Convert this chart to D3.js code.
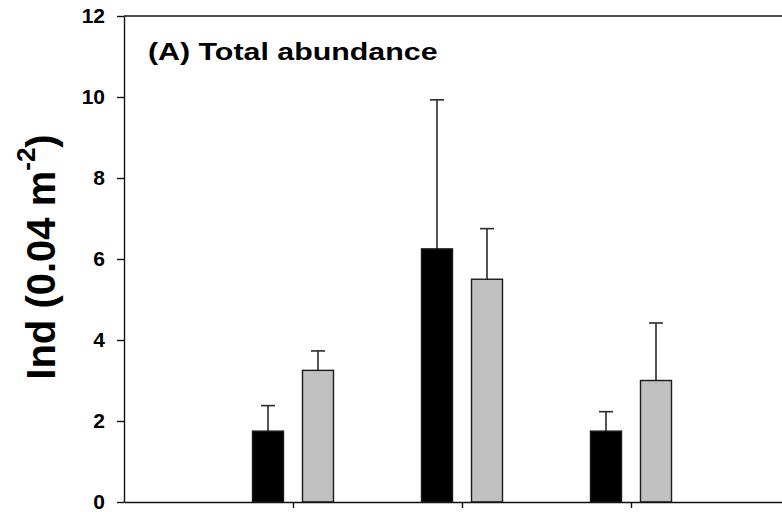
<!DOCTYPE html>
<html>
<head>
<meta charset="utf-8">
<script src="https://cdn.jsdelivr.net/npm/d3@7"></script>
<style>
  body { margin: 0; background: #fff; }
  text { font-family: "Liberation Sans", Arial, sans-serif; font-weight: bold; }
</style>
</head>
<body>
<script>
// group positions on the x axis (no category labels in the figure)
var groups = [1, 2, 3];
// series means (black, grey) and upper error bars
var blackMeans = [1.75, 6.25, 1.75];
var blackErr = [0.63, 3.68, 0.48];
var greyMeans = [3.25, 5.5, 3.0];
var greyErr = [0.48, 1.25, 1.42];
var yTicks = [0, 2, 4, 6, 8, 10, 12];

window.onload = function() {
  makeChart();
};

function makeChart() {
  var w = 782, h = 512;
  var margin = {top: 16, left: 124, bottom: 10};

  var svg = d3.select("body").append("svg")
    .attr("width", w)
    .attr("height", h);

  // 4 slots wide, the right edge of the frame falls outside the picture
  var x = d3.scaleLinear().domain([0, 4]).range([margin.left, margin.left + 4 * 169]);
  var y = d3.scaleLinear().domain([0, 12]).range([h - margin.bottom, margin.top]);

  var series = [
    {means: blackMeans, err: blackErr, fill: "#000", off: -25},
    {means: greyMeans, err: greyErr, fill: "#c0c0c0", off: 25}
  ];
  var barW = 31, capW = 14;

  // frame top line
  svg.append("line")
    .attr("x1", x(0)).attr("x2", x(4))
    .attr("y1", y(12)).attr("y2", y(12))
    .attr("stroke", "#111").attr("stroke-width", 1.4);

  series.forEach(function(s) {
    var rows = groups.map(function(g, i) { return {g: g, m: s.means[i], e: s.err[i]}; });

    // error bars first, the bar sits on the foot of the line
    svg.selectAll(null).data(rows).enter().append("line")
      .attr("x1", function(d) { return x(d.g) + s.off; })
      .attr("x2", function(d) { return x(d.g) + s.off; })
      .attr("y1", function(d) { return y(d.m); })
      .attr("y2", function(d) { return y(d.m + d.e); })
      .attr("stroke", "#2a2a2a").attr("stroke-width", 1.6);
    svg.selectAll(null).data(rows).enter().append("line")
      .attr("x1", function(d) { return x(d.g) + s.off - capW / 2; })
      .attr("x2", function(d) { return x(d.g) + s.off + capW / 2; })
      .attr("y1", function(d) { return y(d.m + d.e); })
      .attr("y2", function(d) { return y(d.m + d.e); })
      .attr("stroke", "#2a2a2a").attr("stroke-width", 1.6);

    svg.selectAll(null).data(rows).enter().append("rect")
      .attr("x", function(d) { return x(d.g) + s.off - barW / 2; })
      .attr("y", function(d) { return y(d.m); })
      .attr("width", barW)
      .attr("height", function(d) { return y(0) - y(d.m); })
      .attr("fill", s.fill)
      .attr("stroke", "#1a1a1a").attr("stroke-width", 1.4);
  });

  // y axis
  var yAxis = svg.append("g")
    .attr("transform", "translate(" + margin.left + ",0)")
    .call(d3.axisLeft(y).tickValues(yTicks).tickSize(7).tickPadding(12).tickSizeOuter(0));
  yAxis.selectAll("text")
    .style("font-size", "21px")
    .attr("fill", "#000");

  // x axis: ticks only under each group
  var xAxis = svg.append("g")
    .attr("transform", "translate(0," + y(0) + ")")
    .call(d3.axisBottom(x).tickValues(groups).tickSize(6).tickFormat("").tickSizeOuter(0));

  svg.selectAll(".domain, .tick line").attr("stroke", "#111").attr("stroke-width", 1.4);

  // y label with superscript
  var ylab = svg.append("text")
    .attr("transform", "translate(55,257) rotate(-90)")
    .attr("text-anchor", "middle")
    .attr("font-size", 40);
  ylab.append("tspan").text("Ind (0.04 m");
  ylab.append("tspan").attr("dy", -20).attr("font-size", 26).text("-2");
  ylab.append("tspan").attr("dy", 20).text(")");

  // panel title (glyphs are stretched horizontally in the original)
  svg.append("text")
    .attr("transform", "translate(148,60) scale(1.24,1)")
    .attr("font-size", 24.5)
    .text("(A) Total abundance");
}
</script>
</body>
</html>
